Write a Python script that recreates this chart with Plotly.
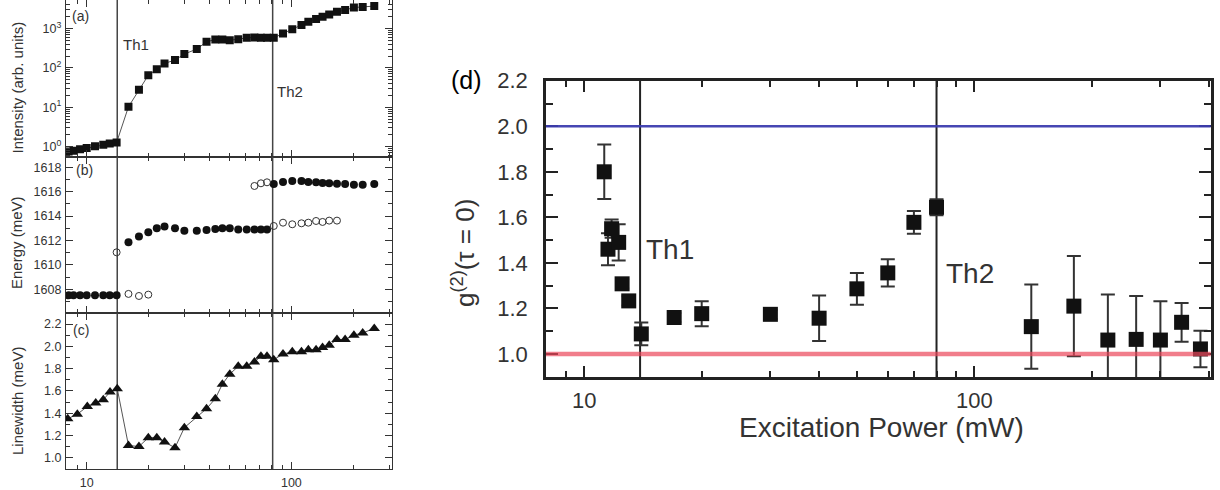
import plotly.graph_objects as go

W, H = 1220, 490

# ---------------- data: panel (a) intensity ----------------
int_power = [8.16, 8.62, 9.28, 10.0, 10.98, 12.05, 12.96, 14.0,
             16, 18, 20, 22, 24, 27, 30, 34.5, 38.5, 42.5, 46, 50, 55, 60.5, 66, 71, 76,
             82, 91, 101, 112, 121, 132, 142, 153, 167, 183, 202, 223, 254]
intensity = [0.75, 0.79, 0.86, 0.93, 1.02, 1.12, 1.2, 1.28,
             10.3, 28, 65, 92, 130, 158, 225, 300, 460, 525, 525, 505, 535, 580, 590, 580, 580,
             580, 745, 960, 1220, 1480, 1730, 1980, 2280, 2650, 2930, 3410, 3530, 3700]

# ---------------- data: panel (b) energy ----------------
energy_filled_power = [8.16, 8.62, 9.28, 10.0, 10.98, 12.05, 12.96, 14.0,
                       16, 18, 20, 22, 24, 27, 30, 34.5, 38.5, 42.5, 46, 50, 55, 60.5, 66, 71, 76,
                       82, 91, 101, 112, 121, 132, 142, 153, 167, 183, 202, 223, 254]
energy_filled = [1607.5, 1607.5, 1607.5, 1607.5, 1607.5, 1607.5, 1607.5, 1607.5,
                 1611.85, 1612.32, 1612.67, 1613.0, 1613.14, 1613.0, 1612.8, 1612.8, 1612.86,
                 1612.95, 1613.0, 1613.0, 1612.9, 1612.9, 1612.9, 1612.9, 1612.9,
                 1616.63, 1616.8, 1616.88, 1616.88, 1616.8, 1616.77, 1616.72, 1616.69,
                 1616.66, 1616.63, 1616.58, 1616.58, 1616.63]
energy_open_power = [14.0, 16, 18, 20, 66, 71, 76, 82, 91, 101, 112, 121, 132, 142, 153, 167]
energy_open = [1611.03, 1607.62, 1607.45, 1607.56, 1616.47, 1616.69, 1616.77,
               1613.19, 1613.46, 1613.33, 1613.41, 1613.46, 1613.6, 1613.52, 1613.63, 1613.63]

# ---------------- data: panel (c) linewidth ----------------
lw_power = [8.08, 9.0, 10.07, 11.07, 12.05, 13.0, 14.1,
            16, 18, 20, 22, 24, 27, 30, 34.5, 38.5, 42.5, 46, 50, 55, 60.5, 66, 71, 76,
            82, 91, 101, 112, 121, 132, 142, 153, 167, 183, 202, 223, 254]
linewidth = [1.35, 1.39, 1.46, 1.49, 1.52, 1.59, 1.62,
             1.11, 1.10, 1.18, 1.18, 1.14, 1.09, 1.27, 1.37, 1.44, 1.53, 1.66, 1.75, 1.82,
             1.82, 1.86, 1.91, 1.91, 1.88, 1.93, 1.95, 1.95, 1.97, 1.97, 1.99, 2.01, 2.06,
             2.06, 2.10, 2.12, 2.16]

# ---------------- data: panel (d) g2 ----------------
g2_power = [11.25, 11.5, 11.75, 12.25, 12.5, 13, 14, 17, 20, 30, 40, 50, 60, 70, 80,
            140, 180, 220, 260, 300, 340, 380]
g2 = [1.80, 1.46, 1.55, 1.49, 1.308, 1.233, 1.088, 1.16, 1.177, 1.174, 1.157, 1.286,
      1.356, 1.578, 1.644, 1.12, 1.21, 1.061, 1.064, 1.061, 1.139, 1.022]
g2_err = [0.12, 0.07, 0.04, 0.08, 0.02, 0.02, 0.05, 0.02, 0.055, 0.02, 0.10, 0.07,
          0.06, 0.05, 0.035, 0.185, 0.22, 0.2, 0.19, 0.17, 0.085, 0.08]

th_left = [14.1, 81]
th_right = [13.9, 80]
th_labels = ["Th1", "Th2"]
ref_levels = [2.0, 1.0]

FONT = "Liberation Sans, Arial, sans-serif"


def px(x):
    return x / W


def py(y):
    return 1 - y / H


# domains
LX = [px(66), px(392)]
DA = [py(156.7), 1.0]
DB = [py(313.3), py(156.7)]
DC = [py(469.3), py(313.3)]
DX = [px(546), px(1210.7)]
DY = [py(377.4), py(80.5)]

fig = go.Figure()

# vertical threshold lines, left panels
ranges_y = {"y": [0.4, 8000], "y2": [1605, 1620], "y3": [0.8, 2.4]}
for xa, ya in [("x", "y"), ("x2", "y2"), ("x3", "y3")]:
    for t in th_left:
        fig.add_trace(go.Scatter(x=[t, t], y=ranges_y[ya], mode="lines",
                                 line=dict(color="#444", width=1.5), xaxis=xa, yaxis=ya,
                                 showlegend=False, hoverinfo="skip"))

# panel (a)
fig.add_trace(go.Scatter(x=int_power, y=intensity, mode="lines+markers",
                         line=dict(color="#555", width=1),
                         marker=dict(symbol="square", size=8, color="#111"),
                         xaxis="x", yaxis="y", showlegend=False))
# panel (b)
fig.add_trace(go.Scatter(x=energy_filled_power, y=energy_filled, mode="markers",
                         marker=dict(symbol="circle", size=8, color="#111"),
                         xaxis="x2", yaxis="y2", showlegend=False))
fig.add_trace(go.Scatter(x=energy_open_power, y=energy_open, mode="markers",
                         marker=dict(symbol="circle-open", size=7, color="#333",
                                     line=dict(width=1)),
                         xaxis="x2", yaxis="y2", showlegend=False))
# panel (c)
fig.add_trace(go.Scatter(x=lw_power, y=linewidth, mode="lines+markers",
                         line=dict(color="#555", width=1),
                         marker=dict(symbol="triangle-up", size=10, color="#111"),
                         xaxis="x3", yaxis="y3", showlegend=False))

# panel (d) threshold lines
for t in th_right:
    fig.add_trace(go.Scatter(x=[t, t], y=[0.8, 2.3], mode="lines",
                             line=dict(color="#222", width=2), xaxis="x4", yaxis="y4",
                             showlegend=False, hoverinfo="skip"))

# reference levels
ref_colors = ["rgba(60,60,175,0.95)", "rgba(235,70,90,0.7)"]
ref_widths = [2.5, 4.5]
for lvl, c, w in zip(ref_levels, ref_colors, ref_widths):
    fig.add_shape(type="line", xref="x4 domain", yref="y4", x0=0, x1=1, y0=lvl, y1=lvl,
                  line=dict(color=c, width=w), layer="above")

fig.add_trace(go.Scatter(x=g2_power, y=g2, mode="markers",
                         marker=dict(symbol="square", size=15, color="#111"),
                         error_y=dict(type="data", array=g2_err, visible=True,
                                      color="#333", thickness=2, width=7),
                         xaxis="x4", yaxis="y4", showlegend=False, cliponaxis=False))

# ---------------- axes ----------------
minor_x = [8, 9, 20, 30, 40, 50, 60, 70, 80, 90, 200, 300, 400]
left_tick = dict(ticks="inside", ticklen=7, tickwidth=1, tickcolor="#333",
                 showline=True, linecolor="#333", linewidth=1.2, mirror="ticks",
                 showgrid=False, zeroline=False,
                 tickfont=dict(family=FONT, size=12.5, color="#333"))

xl = dict(type="log", range=[0.8989, 2.4915], domain=LX, tickvals=[10, 100],
          minor=dict(tickmode="array", tickvals=minor_x, ticks="inside", ticklen=4,
                     tickwidth=1, tickcolor="#333"), **left_tick)

fig.update_layout(
    xaxis=dict(xl, anchor="y", showticklabels=False),
    xaxis2=dict(xl, anchor="y2", showticklabels=False),
    xaxis3=dict(xl, anchor="y3", showticklabels=True, ticklabelstandoff=2),
    yaxis=dict(left_tick, type="log", range=[-0.254, 3.723], domain=DA, anchor="x",
               tickvals=[1, 10, 100, 1000],
               ticktext=["10<sup>0</sup>", "10<sup>1</sup>", "10<sup>2</sup>", "10<sup>3</sup>"],
               minor=dict(tickmode="array",
                          tickvals=[0.6, 0.7, 0.8, 0.9, 2, 3, 4, 5, 6, 7, 8, 9,
                                    20, 30, 40, 50, 60, 70, 80, 90,
                                    200, 300, 400, 500, 600, 700, 800, 900, 2000, 3000, 4000, 5000],
                          ticks="inside", ticklen=4, tickwidth=1, tickcolor="#333"),
               ticklabelstandoff=1),
    yaxis2=dict(left_tick, range=[1606.03, 1618.87], domain=DB, anchor="x2",
                tick0=1608, dtick=2,
                minor=dict(dtick=1, ticks="inside", ticklen=4, tickwidth=1, tickcolor="#333"),
                ticklabelstandoff=1),
    yaxis3=dict(left_tick, range=[0.896, 2.296], domain=DC, anchor="x3",
                tick0=1.0, dtick=0.2, tickformat=".1f",
                minor=dict(dtick=0.1, ticks="inside", ticklen=4, tickwidth=1, tickcolor="#333"),
                ticklabelstandoff=1),
)

right_tick = dict(ticks="inside", ticklen=12, tickwidth=2, tickcolor="#222",
                  showline=True, linecolor="#222", linewidth=2.5, mirror="ticks",
                  showgrid=False, zeroline=False,
                  tickfont=dict(family=FONT, size=22, color="#333"))
fig.update_layout(
    xaxis4=dict(right_tick, type="log", range=[0.9018, 2.6061], domain=DX, anchor="y4",
                tickvals=[10, 100], ticklabelstandoff=1,
                minor=dict(tickmode="array", tickvals=minor_x, ticks="inside", ticklen=7,
                           tickwidth=2, tickcolor="#222")),
    yaxis4=dict(right_tick, range=[0.897, 2.201], domain=DY, anchor="x4",
                tick0=1.0, dtick=0.2, tickformat=".1f", ticklabelstandoff=11,
                minor=dict(dtick=0.1, ticks="inside", ticklen=7, tickwidth=2, tickcolor="#222")),
)

# ---------------- annotations ----------------
ann = []


def add(text, x, y, size, color="#333", angle=0, xanchor="center"):
    ann.append(dict(text=text, x=px(x), y=py(y), xref="paper", yref="paper",
                    showarrow=False, textangle=angle, xanchor=xanchor, yanchor="middle",
                    font=dict(family=FONT, size=size, color=color)))


add("(a)", 81, 16, 14)
add("(b)", 84, 170, 14)
add("(c)", 81, 330, 14)
add(th_labels[0], 136, 45, 15)
add(th_labels[1], 290, 91, 15)
add("Intensity (arb. units)", 17, 87.5, 15, angle=-90)
add("Energy (meV)", 17, 243, 15, angle=-90)
add("Linewidth (meV)", 17, 401, 15, angle=-90)

add("(d)", 466, 80, 25, color="#000")
add(th_labels[0], 644, 249, 28, xanchor="left")
add(th_labels[1], 944, 273.5, 28, xanchor="left")
add("g<sup>(2)</sup>(τ = 0)", 463, 253, 26, angle=-90)
add("Excitation Power (mW)", 881, 427, 28)

fig.update_layout(
    annotations=ann,
    width=W, height=H,
    margin=dict(l=0, r=0, t=0, b=0),
    paper_bgcolor="white", plot_bgcolor="white",
    template="none",
    showlegend=False,
)

fig.write_html("out.html", config={"displayModeBar": False},
               post_script="document.body.style.margin='0px';document.body.style.overflow='hidden';")
